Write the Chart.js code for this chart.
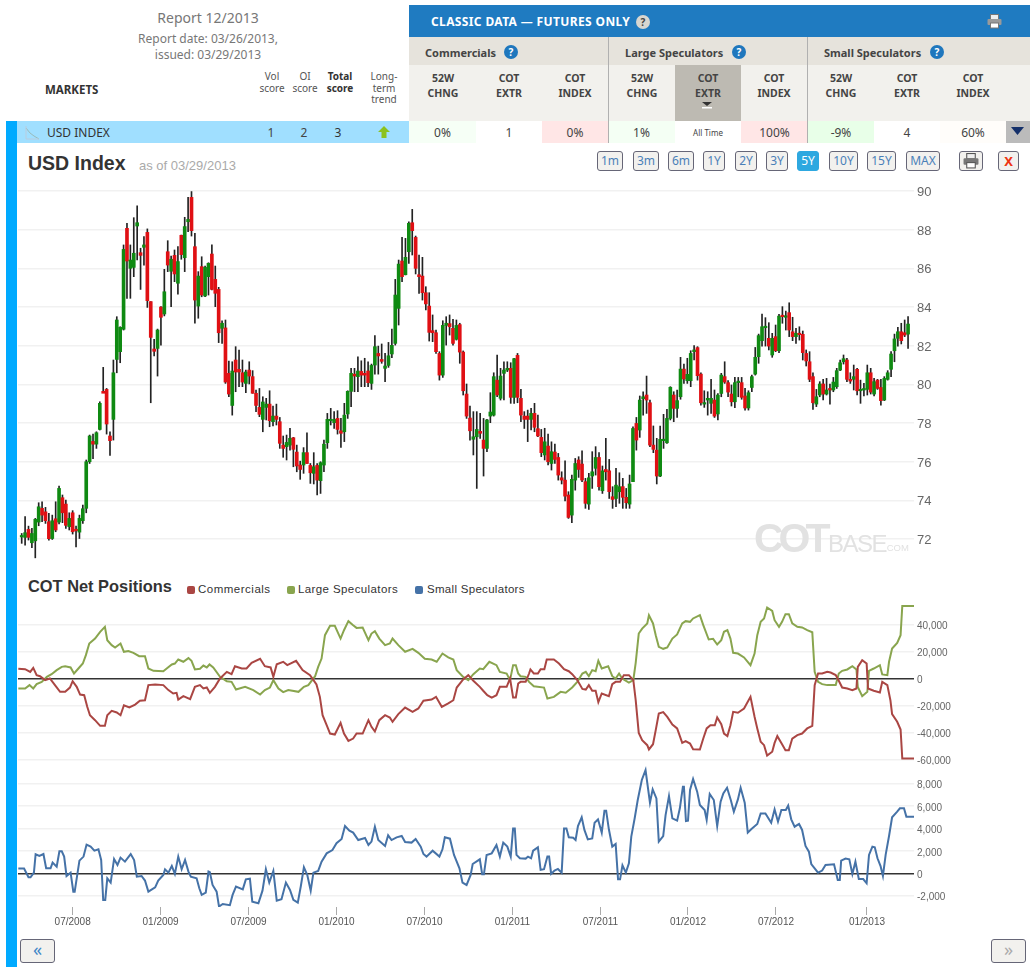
<!DOCTYPE html>
<html>
<head>
<meta charset="utf-8">
<title>USD Index</title>
<script src="https://cdn.jsdelivr.net/npm/chart.js@4/dist/chart.umd.min.js"></script>
<style>
html, body { margin: 0; padding: 0; background: #fff; overflow: hidden; }
body { width: 1034px; height: 967px; position: relative; font-family: "Noto Sans", sans-serif; color: #444; }
.box, .t, canvas, .btn { position: absolute; }
.t { white-space: nowrap; line-height: 1; }
.c { transform: translateX(-50%); text-align: center; }
.arial { font-family: "Liberation Sans", Arial, sans-serif; }
.colhead { font-size: 10.5px; font-weight: bold; color: #444; line-height: 15px; }
.small { font-size: 10px; color: #555; line-height: 11.5px; }
.cell { position: absolute; top: 121px; height: 22px; line-height: 23px; text-align: center; font-size: 12px; color: #444; }
.btn { top: 151px; height: 18px; line-height: 18px; border: 1px solid #667; border-radius: 3px; background: #f2f1ee; text-align: center; font-size: 12px; color: #4a80b8; }
.help { position: absolute; width: 14px; height: 14px; line-height: 14px; border-radius: 50%; background: #1f77bd; color: #fff; font-size: 10px; font-weight: bold; text-align: center; }
.leg { position: absolute; top: 586px; width: 8px; height: 8px; border-radius: 2px; }
</style>
</head>
<body>
<!-- left edge bar -->
<div class="box" style="left:6px;top:121px;width:11px;height:846px;background:#00aaff"></div>

<!-- report heading -->
<div class="t c" style="left:208px;top:11px;font-size:14px;color:#777">Report 12/2013</div>
<div class="t c" style="left:208px;top:31px;font-size:12px;color:#777;line-height:16px">Report date: 03/26/2013,<br>issued: 03/29/2013</div>
<div class="t" style="left:45px;top:84px;font-size:11.5px;font-weight:bold;color:#333">MARKETS</div>
<div class="t c small" style="left:272px;top:71px">Vol<br>score</div>
<div class="t c small" style="left:305px;top:71px">OI<br>score</div>
<div class="t c small" style="left:340px;top:71px;font-weight:bold;color:#333">Total<br>score</div>
<div class="t c small" style="left:384px;top:71px">Long-<br>term<br>trend</div>

<!-- classic data header -->
<div class="box" style="left:409px;top:5px;width:621px;height:32px;background:#1f7bc1"></div>
<div class="t" style="left:431px;top:16px;font-size:12px;font-weight:bold;color:#fff;letter-spacing:0.37px">CLASSIC DATA — FUTURES ONLY</div>
<div class="help" style="left:636px;top:15px;background:#d8d6d0;color:#444">?</div>
<svg class="box" style="left:987px;top:14px" width="15" height="15" viewBox="0 0 15 15"><rect x="3.5" y="0.5" width="8" height="5" fill="#eee" stroke="#777"/><rect x="0.5" y="5" width="14" height="6" rx="1" fill="#9a9a9a"/><rect x="3.5" y="9" width="8" height="5" fill="#fff" stroke="#777"/></svg>

<div class="box" style="left:409px;top:37px;width:621px;height:28px;background:#e6e3dc"></div>
<div class="box" style="left:409px;top:65px;width:621px;height:56px;background:#f2f1ed"></div>
<div class="box" style="left:675px;top:65px;width:66px;height:56px;background:#bdbab2"></div>
<div class="t" style="left:425px;top:47px;font-size:11px;font-weight:bold;color:#444">Commercials</div>
<div class="help" style="left:504px;top:45px">?</div>
<div class="t" style="left:625px;top:47px;font-size:11px;font-weight:bold;color:#444">Large Speculators</div>
<div class="help" style="left:732px;top:45px">?</div>
<div class="t" style="left:824px;top:47px;font-size:11px;font-weight:bold;color:#444">Small Speculators</div>
<div class="help" style="left:930px;top:45px">?</div>

<div class="t c colhead" style="left:443px;top:71px">52W<br>CHNG</div>
<div class="t c colhead" style="left:509px;top:71px">COT<br>EXTR</div>
<div class="t c colhead" style="left:575px;top:71px">COT<br>INDEX</div>
<div class="t c colhead" style="left:642px;top:71px">52W<br>CHNG</div>
<div class="t c colhead" style="left:708px;top:71px">COT<br>EXTR</div>
<div class="t c colhead" style="left:774px;top:71px">COT<br>INDEX</div>
<div class="t c colhead" style="left:841px;top:71px">52W<br>CHNG</div>
<div class="t c colhead" style="left:907px;top:71px">COT<br>EXTR</div>
<div class="t c colhead" style="left:973px;top:71px">COT<br>INDEX</div>
<svg class="box" style="left:702px;top:102px" width="10" height="7"><polygon points="0,0 10,0 5,4" fill="#333"/><rect x="0" y="5" width="10" height="1.5" fill="#fff"/></svg>

<!-- market row -->
<div class="box" style="left:17px;top:121px;width:392px;height:22px;background:#a0dfff"></div>
<svg class="box" style="left:25px;top:125px" width="15" height="15"><polyline points="1,3 5,8 9,11 14,14" fill="none" stroke="#9bb" stroke-width="1"/><polyline points="1,1 1,14 14,14" fill="none" stroke="#bcd" stroke-width="1"/></svg>
<div class="t" style="left:47px;top:127px;font-size:12px;color:#333">USD INDEX</div>
<div class="t c" style="left:271px;top:127px;font-size:12px">1</div>
<div class="t c" style="left:304px;top:127px;font-size:12px">2</div>
<div class="t c" style="left:338px;top:127px;font-size:12px;color:#333">3</div>
<svg class="box" style="left:378px;top:126px" width="12" height="12"><polygon points="6,0 12,6 8.5,6 8.5,12 3.5,12 3.5,6 0,6" fill="#8cc21e"/></svg>

<div class="cell" style="left:409px;width:67px;background:#f6fff6">0%</div>
<div class="cell" style="left:476px;width:66px;background:#fff">1</div>
<div class="cell" style="left:542px;width:66px;background:#ffe6e6">0%</div>
<div class="cell" style="left:608px;width:67px;background:#f4fff4">1%</div>
<div class="cell" style="left:675px;width:66px;background:#fff;font-size:8px">All Time</div>
<div class="cell" style="left:741px;width:67px;background:#ffe6e6">100%</div>
<div class="cell" style="left:808px;width:66px;background:#e8ffe8">-9%</div>
<div class="cell" style="left:874px;width:66px;background:#fff">4</div>
<div class="cell" style="left:940px;width:66px;background:#fffdfa">60%</div>
<div class="box" style="left:1006px;top:121px;width:24px;height:22px;background:#bbb"></div>
<svg class="box" style="left:1011px;top:127px" width="13" height="9"><polygon points="0,0 13,0 6.5,8" fill="#14306a"/></svg>
<div class="box" style="left:608px;top:37px;width:1px;height:106px;background:#b0b0b0"></div>
<div class="box" style="left:807px;top:37px;width:1px;height:106px;background:#b0b0b0"></div>

<!-- chart title and range buttons -->
<div class="t arial" style="left:28px;top:154px;font-size:19.5px;font-weight:bold;color:#333">USD Index</div>
<div class="t arial" style="left:139px;top:159px;font-size:13px;color:#aaa">as of 03/29/2013</div>
<div class="btn" style="left:597px;width:24px">1m</div>
<div class="btn" style="left:633px;width:24px">3m</div>
<div class="btn" style="left:668px;width:24px">6m</div>
<div class="btn" style="left:703px;width:20px">1Y</div>
<div class="btn" style="left:735px;width:20px">2Y</div>
<div class="btn" style="left:766px;width:20px">3Y</div>
<div class="btn" style="left:797px;width:20px;background:#2ea8e0;color:#fff;border-color:#2ea8e0">5Y</div>
<div class="btn" style="left:829px;width:27px">10Y</div>
<div class="btn" style="left:867px;width:27px">15Y</div>
<div class="btn" style="left:906px;width:32px">MAX</div>
<div class="btn" style="left:959px;width:22px"></div>
<svg class="box" style="left:963px;top:153px" width="16" height="16" viewBox="0 0 15 15"><rect x="3.5" y="0.5" width="8" height="5" fill="#eee" stroke="#555"/><rect x="0.5" y="5" width="14" height="6" rx="1" fill="#777"/><rect x="3.5" y="9" width="8" height="5" fill="#fff" stroke="#555"/></svg>
<div class="btn" style="left:998px;width:19px;color:#ee3311;font-weight:bold;font-size:13px">X</div>

<canvas id="priceChart" width="1000" height="380" style="left:18px;top:185px"></canvas>
<canvas id="cotChart" width="1000" height="165" style="left:18px;top:600px"></canvas>
<canvas id="smallChart" width="1000" height="170" style="left:18px;top:765px"></canvas>

<!-- watermark -->
<div class="t arial" style="left:754px;top:518px;font-size:41px;font-weight:bold;color:#e2e2e2;letter-spacing:-5px">COT</div>
<div class="t arial" style="left:828px;top:532px;font-size:24px;color:#e2e2e2;letter-spacing:-1.5px">BASE</div>
<div class="t arial" style="left:884px;top:543px;font-size:9.5px;color:#e2e2e2">.COM</div>

<!-- COT heading and legend -->
<div class="t arial" style="left:28px;top:578px;font-size:16.4px;font-weight:bold;color:#333">COT Net Positions</div>
<div class="leg" style="left:187px;background:#AA4643"></div>
<div class="t arial" style="left:198px;top:584px;font-size:11.5px;letter-spacing:0.5px;color:#333">Commercials</div>
<div class="leg" style="left:287px;background:#89A54E"></div>
<div class="t arial" style="left:298px;top:584px;font-size:11.5px;letter-spacing:0.4px;color:#333">Large Speculators</div>
<div class="leg" style="left:415px;background:#4572A7"></div>
<div class="t arial" style="left:427px;top:584px;font-size:11.5px;letter-spacing:0.3px;color:#333">Small Speculators</div>

<!-- paging buttons -->
<div class="btn" style="left:20px;top:939px;width:33px;height:22px;line-height:19px;font-size:18px;color:#3f86c6">«</div>
<div class="btn" style="left:991px;top:939px;width:33px;height:22px;line-height:19px;font-size:18px;color:#aaa">»</div>

<script>
// Weekly USD index candles, one value per week
const candleHigh = [72.29,73.16,72.67,72.55,73.07,73.88,73.93,73.64,73.33,73.24,73.93,74.74,74.28,74.02,73.36,73.47,72.67,73.24,73.76,76.09,
  77.38,77.43,77.55,79.10,80.88,79.79,77.55,81.26,83.50,82.98,87.21,88.33,87.21,88.62,89.23,87.04,87.64,88.04,84.28,82.33,
  82.86,84.02,85.95,87.43,86.64,86.95,87.12,87.72,88.64,89.67,89.97,87.81,85.83,86.60,86.12,86.29,87.21,86.12,85.02,83.29,
  83.33,81.21,81.17,81.95,81.78,81.26,80.74,81.17,80.71,79.71,79.79,79.36,79.28,79.67,78.88,78.98,78.29,77.33,77.38,77.73,
  77.26,76.86,76.03,76.73,77.50,75.91,76.47,75.91,76.00,77.12,78.50,78.76,78.59,78.64,78.24,79.02,79.67,80.83,80.83,81.43,
  81.22,81.35,81.17,81.05,82.52,81.98,82.09,81.60,82.17,82.86,85.43,86.43,87.60,87.55,88.41,89.05,87.67,86.69,86.57,85.05,
  84.74,83.59,82.81,81.69,83.29,83.50,83.59,83.36,83.33,83.16,81.73,80.02,78.88,78.59,78.59,78.50,78.24,78.19,79.57,80.60,
  81.52,80.83,81.17,81.17,81.12,81.35,81.60,79.74,78.59,78.67,78.76,79.02,78.41,77.67,77.73,77.43,77.03,76.91,76.43,75.48,
  76.05,74.45,75.31,76.17,76.26,76.57,75.14,75.40,76.52,76.78,76.47,75.78,77.21,76.12,74.71,75.66,75.43,75.14,74.62,75.31,
  77.81,78.29,79.40,79.62,80.43,79.19,77.85,77.21,77.85,78.45,78.71,79.88,79.62,79.71,81.40,81.05,81.35,81.74,82.00,81.95,
  80.60,79.67,79.62,80.26,79.71,79.53,80.57,81.17,80.19,79.97,80.36,80.36,80.36,79.79,79.67,80.48,81.91,82.60,83.64,83.45,
  83.19,82.64,83.07,83.62,84.02,83.79,84.22,83.47,82.90,82.98,82.76,81.78,81.69,80.60,79.74,80.14,80.26,80.31,80.02,80.36,
  80.83,81.26,81.52,81.35,80.60,81.00,80.83,80.22,80.05,81.00,80.83,80.31,80.26,80.26,80.40,80.71,81.69,82.60,82.95,83.16,
  83.33,83.50];
const candleLow = [71.78,71.69,71.95,71.55,71.03,72.69,72.90,72.81,71.95,71.98,72.38,72.78,72.85,72.55,72.47,72.26,71.60,72.03,72.81,73.36,
  75.91,76.16,76.69,77.64,79.60,77.43,76.33,77.12,80.60,81.12,82.81,84.45,84.45,85.57,86.43,84.91,86.17,83.98,79.05,81.47,
  80.43,82.03,83.54,85.83,84.02,85.31,84.66,86.47,85.83,87.90,87.67,83.16,83.42,84.53,84.53,84.62,84.88,84.02,82.16,82.12,
  80.05,79.36,78.41,79.62,79.88,79.88,79.57,80.02,79.54,78.59,78.33,77.55,78.16,77.81,77.85,77.90,76.69,76.23,76.09,76.60,
  75.74,75.48,75.09,75.40,75.91,74.88,74.85,74.28,74.36,75.48,76.69,77.90,77.72,77.43,76.74,77.04,78.24,78.85,79.62,79.62,
  79.88,79.88,79.88,79.74,80.53,80.53,81.09,80.14,80.88,81.38,82.03,83.07,85.31,85.66,86.26,86.69,85.71,84.71,84.36,83.85,
  82.24,82.21,81.60,80.22,80.36,82.03,82.55,82.03,82.29,81.09,79.45,78.24,77.12,76.35,74.62,77.21,75.26,76.52,78.02,78.36,
  79.36,79.19,79.19,80.66,79.02,79.02,79.05,78.07,77.72,77.04,77.64,77.55,77.29,76.26,76.09,75.83,75.57,75.91,75.05,74.85,
  73.98,73.07,72.85,74.53,75.19,74.97,73.59,73.54,74.62,75.31,74.53,74.36,75.05,74.10,73.59,73.67,73.85,73.59,73.59,73.59,
  74.97,76.60,77.26,78.41,78.50,76.78,76.47,74.85,75.23,76.69,76.95,78.16,78.07,78.29,79.23,80.05,80.05,79.88,81.26,80.22,
  78.93,78.81,78.41,78.50,78.29,78.16,79.36,80.05,79.36,78.88,78.79,79.36,79.23,78.67,78.67,79.62,80.48,81.09,81.98,81.98,
  81.78,81.40,81.69,81.64,83.16,82.81,82.47,82.26,82.12,82.29,81.26,80.95,80.14,78.71,78.85,79.36,79.19,79.45,78.98,79.62,
  79.79,80.71,81.05,80.14,80.05,79.71,79.45,79.02,79.40,79.45,79.50,79.40,79.74,78.93,79.16,80.22,80.40,81.17,81.98,82.09,
  82.47,81.86];
const candleOpen = [72.11,72.09,72.50,71.81,71.91,72.88,73.59,73.41,72.90,72.03,73.05,72.88,74.14,73.81,72.64,73.36,72.50,72.36,72.95,73.59,
  76.00,77.05,76.91,77.67,79.64,79.74,77.33,78.19,81.29,81.69,82.85,88.07,86.00,86.05,88.19,86.81,87.09,87.86,84.28,81.83,
  81.86,84.00,83.64,86.86,85.85,86.67,85.23,87.71,86.55,88.41,89.67,87.12,84.05,86.09,84.57,85.57,86.74,85.43,84.91,82.90,
  82.92,80.57,78.91,81.26,80.78,80.60,80.05,80.74,80.40,79.54,78.81,78.19,78.81,78.98,78.07,78.36,78.07,76.86,76.78,76.86,
  77.24,76.50,75.83,75.83,76.47,75.81,75.40,75.81,75.02,75.83,76.98,78.12,78.02,78.24,77.60,77.55,78.47,79.64,80.53,80.40,
  80.67,80.57,80.69,80.05,81.00,81.60,81.29,80.83,80.98,81.57,82.12,83.93,86.38,85.67,86.86,88.36,87.60,85.67,85.60,84.74,
  84.05,82.78,82.67,81.60,80.48,83.05,83.14,82.90,82.33,83.09,81.67,79.50,78.26,77.16,77.29,77.57,77.12,76.69,78.36,78.41,
  80.22,79.28,80.57,80.74,80.83,79.33,81.50,79.28,78.36,78.36,78.19,78.50,77.71,77.26,76.35,76.81,75.91,76.50,76.22,75.17,
  75.05,74.28,73.24,75.05,76.09,75.88,74.97,73.81,75.26,75.66,76.22,74.50,75.60,75.53,74.19,74.10,74.45,74.71,74.16,73.81,
  74.97,77.98,77.64,79.26,79.45,79.05,76.86,76.60,75.26,77.09,76.98,78.24,79.45,78.76,79.36,80.79,80.19,80.19,81.69,81.90,
  80.53,78.98,79.19,79.02,79.19,78.47,79.53,80.40,80.09,79.50,79.10,80.09,80.09,79.40,78.78,79.84,80.53,81.43,82.26,82.93,
  82.38,81.52,82.47,81.74,83.57,83.47,83.71,82.72,82.47,82.64,82.59,81.60,81.17,80.40,78.98,79.45,80.02,79.50,79.79,79.71,
  79.88,80.74,81.17,81.26,80.26,80.26,80.78,79.67,79.71,79.74,80.60,79.50,80.22,79.84,79.19,80.26,80.78,81.74,82.38,82.72,
  82.67,82.60];
const candleClose = [72.18,72.33,72.09,72.29,73.02,73.67,73.24,72.95,72.02,72.95,72.47,74.62,73.36,72.71,73.07,72.38,72.43,73.07,73.57,76.00,
  77.33,76.91,77.50,79.02,79.54,77.95,77.09,80.60,83.33,82.95,86.98,86.38,86.43,86.78,88.36,86.67,87.21,84.33,82.43,81.71,
  82.81,83.47,84.79,86.17,86.47,85.71,86.35,86.71,88.16,88.53,87.95,84.36,85.60,84.62,86.05,86.26,84.91,84.71,82.67,83.16,
  80.12,79.50,80.69,80.64,80.64,80.12,80.64,80.43,79.54,78.91,78.45,79.09,78.98,78.12,78.36,78.19,76.95,76.69,77.00,77.21,
  76.64,75.78,75.60,76.47,75.91,75.43,75.74,75.05,75.95,76.91,78.19,78.19,78.19,77.67,77.47,78.41,79.64,80.57,80.43,80.69,
  80.48,80.48,80.09,80.98,81.95,81.47,81.19,80.95,81.48,82.02,84.62,86.22,85.57,86.57,88.33,87.95,86.00,85.57,84.74,84.16,
  82.69,82.67,81.69,80.48,83.05,83.16,82.98,82.12,83.05,81.67,79.67,78.36,77.60,77.29,77.67,77.47,76.69,78.16,78.57,80.40,
  79.45,80.43,80.74,80.83,79.33,81.33,79.33,78.41,78.19,78.19,78.50,77.78,77.33,76.47,77.03,76.00,76.52,76.12,75.31,75.05,
  74.22,73.12,75.09,75.91,75.60,75.05,73.85,75.17,75.48,76.22,74.71,75.53,75.48,74.45,74.05,74.79,74.71,74.16,73.88,74.85,
  77.72,77.12,79.19,79.36,79.19,76.86,76.64,75.26,77.16,77.16,78.24,79.85,78.76,79.16,80.79,80.28,80.52,81.60,81.78,80.45,
  79.05,79.02,79.28,79.28,78.36,79.45,80.48,80.12,79.60,79.10,80.09,80.16,79.33,78.78,79.57,80.40,81.40,82.52,82.98,82.98,
  81.98,82.38,81.74,83.53,83.50,83.53,82.81,82.47,82.64,82.57,81.64,81.21,80.26,79.05,79.36,80.02,79.50,79.71,79.71,80.12,
  80.71,81.12,81.33,80.26,80.17,80.40,79.67,79.74,79.78,80.60,79.60,80.14,79.79,79.16,80.31,80.60,81.57,82.35,82.72,82.26,
  82.55,83.12];

// Net positions as [week, net contracts]
const commercials = [[-1,7200],[1,6900],[2.5,4900],[3.4,7900],[4.4,2500],[5.4,1700],[6.9,-1200],[8.3,0],[9.8,-4900],[11.3,-9900],[12.8,-9900],[14.2,-6700],[15,-2000],[16.2,-6200],[17.2,-11900],[18.4,-12400],[19.3,-21000],[20.1,-27200],[21.6,-30900],[23.1,-35100],[24.5,-35100],[25.2,-27200],[26.5,-24000],[28,-25200],[29.1,-27200],[30.1,-19800],[31.7,-21500],[33.4,-19300],[34.8,-16500],[36.3,-16100],[37.3,-4900],[39.3,-4400],[41.7,-4900],[43.2,-8600],[44.6,-11100],[45.6,-10600],[46.1,-15600],[47.6,-13100],[49.6,-15300],[51,-6200],[52.5,-4900],[53.5,-7400],[54.5,-6700],[55.4,-10600],[56.9,-6200],[58.4,0],[60.4,4900],[61.8,3200],[62.8,9100],[64.8,7400],[66.2,7400],[67.7,11600],[70.2,14600],[71.6,9100],[73.3,8200],[74.1,1200],[75.1,10600],[77,12400],[78.2,9900],[80.8,13100],[82.7,6200],[84.9,2500],[86.8,-4400],[87.8,-13600],[88.6,-27200],[89.8,-34600],[90.8,-40800],[92.2,-41500],[93.9,-32900],[94.9,-40800],[96.2,-46200],[97.6,-44500],[98.6,-40800],[100.4,-40800],[102.1,-30900],[103,-35800],[104,-39300],[105.3,-30900],[107,-27200],[108.4,-28900],[109.2,-32100],[110.9,-26400],[112.9,-21500],[115.1,-24700],[116.8,-22200],[118.3,-16500],[120.7,-15600],[122,-13600],[123.7,-21000],[125.6,-18500],[127.1,-16100],[128.1,-6700],[130,-700],[131.5,2500],[133,-1700],[134.9,-6200],[135.9,-9100],[137.1,-12400],[138.4,-14100],[139.8,-12400],[140.8,-6200],[142.8,-6200],[143.8,0],[144.7,-14100],[145.5,-14100],[146.2,-3700],[146.9,-2500],[148.4,-2500],[149.4,3700],[149.8,6700],[150.8,3700],[152,3700],[152.8,6900],[153.9,6900],[154.6,14100],[156.7,14100],[158.2,11100],[159.7,6900],[161.1,5400],[162.1,3200],[163.6,-1200],[165.1,-7700],[166.1,-8200],[167,-4900],[168,-9100],[169,-9100],[169.8,-17500],[170.8,-11100],[172.9,-13100],[173.9,-4200],[174.9,-2500],[176.2,-2500],[177.3,2500],[178.8,2500],[180.1,-1200],[180.8,-16100],[181.7,-40300],[182.7,-45700],[184.2,-49400],[184.7,-52600],[185.9,-48700],[186.7,-38300],[187.6,-25900],[188.9,-24900],[190.1,-28400],[191.6,-34100],[193,-37000],[194.5,-47700],[195.5,-46400],[196.8,-48200],[197.7,-52400],[199.7,-52600],[200.7,-44500],[201.7,-37000],[202.8,-34600],[204.1,-34600],[204.8,-28900],[206,-33800],[206.8,-40800],[207.8,-42700],[208.7,-34600],[209.5,-24700],[210.9,-25400],[212.7,-22200],[214.6,-13600],[215.8,-28400],[216.6,-37000],[217.6,-46900],[218.6,-49400],[219.5,-57100],[221,-54300],[221.7,-47700],[222.5,-42700],[223.9,-48700],[224.9,-53100],[225.9,-53100],[226.9,-44500],[228.4,-42000],[229.8,-40800],[231.3,-37000],[232.8,-35100],[233.5,-4900],[234.5,3700],[235.7,3700],[237.2,4900],[238.2,4400],[239.7,2500],[240.6,-1700],[241.6,-6700],[243.1,-7400],[244.6,-8600],[245.8,-7400],[246.2,8600],[247.5,13600],[248.8,11100],[249.2,-7400],[250.9,-9100],[252.7,-10400],[253.4,-2500],[254.9,-4900],[255.8,-16100],[256.3,-26400],[257.8,-32100],[258.8,-37800],[259.3,-59300],[263,-59300]];
const largeSpeculators = [[-1,-7400],[1,-7400],[2.3,-4900],[3.4,-7400],[4.4,-4200],[5.9,-2500],[7.4,1200],[8.8,3200],[10.3,6200],[11.8,8600],[12.8,9100],[14.4,8200],[15.4,3700],[16.7,7400],[18,11100],[18.9,17300],[19.9,25900],[21.6,29600],[23.1,34600],[24.5,38300],[25.2,28400],[26.5,24700],[27.5,23000],[29.1,25900],[30.1,19800],[31.4,20300],[32.9,19000],[34.6,16500],[36.3,16500],[37.3,7400],[38.8,5700],[41.7,5400],[42.7,7400],[44.2,10400],[45.1,11100],[46.1,14100],[47.6,12400],[49.1,15100],[50,13100],[51,6700],[52.5,7200],[53.5,9600],[54.5,8200],[55.3,10400],[56.4,8200],[58.4,1200],[60.4,-2000],[61.8,-2500],[63.1,-8200],[65.8,-6200],[68.2,-8600],[70.2,-11900],[71.6,-8600],[73.1,-6700],[74.1,-1200],[75.6,-7400],[77,-10100],[78.5,-8600],[81.5,-9900],[83.1,-6200],[84.4,-4900],[86.4,1700],[87.3,8600],[88.3,14800],[89.3,32100],[90.8,39000],[92.2,39000],[93.9,29600],[94.9,35800],[96.2,42500],[97.6,39500],[98.6,37500],[100.4,37800],[102.1,28400],[103,33300],[104,35100],[105.3,29600],[107,24700],[108.4,25900],[109.2,29600],[110.9,24700],[112.9,19800],[115.1,22000],[116.8,19000],[118.7,14600],[120.7,14100],[122.2,12400],[123.9,18500],[125.6,15600],[127.1,14100],[128.1,6200],[130,1200],[131.5,-1200],[133,3200],[134.9,7400],[135.9,6900],[137.7,12400],[139.8,9900],[140.8,4900],[142.8,3700],[143.8,-1200],[144.7,9900],[145.5,9900],[146.2,3700],[146.9,1700],[148.4,1200],[149.4,-2500],[150.8,-5700],[153.8,-6700],[154.8,-14800],[156.7,-13600],[158.7,-9900],[160.2,-10600],[162.1,-6700],[163.6,-2500],[165.1,3700],[166.1,4900],[167,1700],[168,6200],[169,5400],[169.8,13100],[170.8,7400],[172.7,9100],[173.9,1700],[174.9,0],[175.9,3700],[176.8,0],[178.8,-3000],[180.1,-1200],[180.8,11600],[181.7,33300],[182.7,37000],[184.2,40800],[184.7,46900],[185.9,40800],[186.7,32100],[187.6,23500],[188.9,22000],[190.1,23000],[191.6,29600],[193,32600],[194.5,40800],[195.5,42500],[196.8,42000],[197.7,44500],[199.7,46900],[200.7,39500],[202.3,28900],[203.6,29400],[204.8,25200],[206,28400],[206.8,34600],[207.8,35800],[208.7,29600],[209.5,19000],[210.9,18500],[212.7,15600],[214.6,9900],[215.8,18500],[216.6,32100],[217.6,42000],[218.6,44500],[219.5,52600],[221,50100],[221.7,43200],[223,38300],[223.9,42000],[224.9,47700],[225.9,47700],[226.9,40800],[228.4,38300],[229.8,37800],[231.3,35800],[232.8,34300],[233.5,4900],[234.5,-2500],[235.7,-4200],[237.2,-4900],[238.2,-4900],[239.7,-4900],[240.6,3700],[241.6,5700],[243.1,6700],[244.6,9100],[245.8,6700],[246.2,-6200],[247.5,-13100],[249,-9900],[249.5,5700],[250.9,7400],[252.7,9900],[253.4,3000],[254.9,2500],[255.4,12400],[256.3,22200],[257.8,26400],[258.8,32100],[259.3,53800],[263,53800]];
const smallSpeculators = [[-1,420],[0.7,420],[2,-360],[2.6,-360],[3.6,60],[4.1,1700],[5.2,1550],[6.4,1720],[7.2,450],[8.5,450],[9.1,950],[10.3,590],[11.1,1960],[11.8,1960],[12.5,1490],[13.2,-240],[14.4,60],[15.2,-1640],[15.6,-1640],[16.4,-60],[17,1130],[18.2,1490],[19.1,2560],[20.3,2380],[21.4,2020],[22.6,2140],[23.4,1190],[24,-2380],[24.6,-2380],[25.2,-450],[26.2,-830],[27.2,1280],[28.2,740],[29.1,1400],[30.4,1040],[32.1,1720],[33.1,1190],[33.9,-300],[35.3,-240],[36.3,-650],[37.3,-1640],[39.3,-1250],[40.2,-650],[41.7,-150],[42.2,360],[43.2,60],[44.2,650],[45.1,-60],[46.1,1490],[47.1,360],[48.1,1190],[49.1,150],[49.8,-300],[51.5,-450],[52.3,-1340],[53,-1930],[54.2,-1720],[55,150],[55.4,90],[56.2,-1040],[57.4,-1640],[58.1,-2970],[59.2,-2740],[61.3,-2850],[62.1,-1930],[63.1,-1190],[65.1,-1430],[66,-540],[67.2,-480],[67.9,-2530],[69.7,-2680],[70.9,-1550],[71.9,360],[72.9,-830],[74.1,210],[75.1,-2440],[76.5,-2320],[77.8,-830],[79,-1490],[80,-2380],[81.3,-2620],[82.2,-1130],[83.1,540],[84.1,-150],[85.1,-1550],[85.9,60],[87.3,210],[88.3,1040],[89.8,1780],[91.5,2080],[92.7,2680],[94.2,3060],[95.2,4220],[96.5,3810],[97.6,3630],[99.1,2970],[101.1,3150],[102.1,2530],[103,2830],[104,4160],[105,2970],[107,2440],[107.9,3390],[108.9,2970],[110.4,3210],[111.9,3330],[112.9,2800],[114.8,2740],[116,3060],[117.5,2380],[118.3,1720],[119.2,1490],[121,2020],[123,1490],[123.9,2140],[124.6,3210],[126.1,3090],[127.3,1640],[128.9,450],[129.8,-830],[131,-1040],[132.2,-150],[132.8,830],[134.9,1250],[135.6,-90],[136.1,-90],[136.9,1640],[138.4,1780],[139.8,2530],[140.8,1490],[141.8,2740],[143,2380],[144,1490],[144.7,4010],[145.2,4010],[145.7,1640],[146.7,1340],[148.4,1310],[149.1,1490],[150,1340],[150.6,2020],[152,2320],[152.8,300],[153.8,360],[154.8,1490],[155.3,1490],[155.9,-60],[156.9,240],[157.9,390],[159,60],[159.7,4010],[160.4,4010],[161.1,3210],[162.4,3180],[163.1,2970],[163.8,4220],[164.9,5000],[165.7,3870],[166.7,3030],[168,3120],[168.7,4520],[169.7,4820],[170.8,3630],[171.6,5590],[172.1,5590],[172.9,3930],[173.9,2380],[174.9,2620],[175.6,-540],[176.2,-540],[176.9,710],[177.9,60],[178.8,890],[179.5,3270],[180.5,4910],[181.4,6540],[182.6,8330],[183.7,9220],[185,6300],[185.8,7490],[186.9,6690],[187.6,2830],[188.9,3330],[189.6,5200],[190.6,6900],[191.6,4910],[193,4700],[193.8,5800],[194.7,7730],[195,7730],[195.6,4670],[196.2,4700],[196.8,7440],[197.7,8420],[198.9,7290],[199.7,6100],[201.1,5650],[201.7,4760],[202.6,7080],[203.8,6540],[204.8,4220],[205.8,6390],[206.6,7140],[207.7,7640],[208.8,6540],[209.7,5500],[210.9,6600],[211.7,7640],[212.9,6300],[213.8,3630],[214.8,3930],[216.6,4400],[217.6,5350],[219,5350],[220.7,4520],[221.7,5710],[222.7,4610],[223.7,5650],[225,5650],[225.7,6040],[226.6,4820],[227.6,4160],[228.9,4400],[229.8,3870],[230.8,2440],[231.8,1930],[232.5,830],[234.5,60],[235.7,240],[236.7,740],[239.2,800],[240.3,-590],[240.9,-590],[241.3,1130],[242.6,1310],[243.7,1250],[244.6,-60],[245.5,1040],[246.5,-510],[247.8,-510],[248.8,-890],[249.5,1640],[250.5,2380],[251.2,2320],[252,1340],[252.9,650],[253.6,-240],[254.4,1640],[255.4,3330],[256.3,5000],[257.8,5500],[258.6,5800],[259.8,5800],[260.5,5060],[263,5060]];

// Axis ticks
const priceTicks = [72,74,76,78,80,82,84,86,88,90];
const cotTicks = [-60000,-40000,-20000,0,20000,40000];
const smallTicks = [-2000,0,2000,4000,6000,8000];
const dateTickWeeks = [15,40.9,66.8,92.7,118.6,144.5,170.4,196.2,222.1,248.9];
const dateTickLabels = ['07/2008','01/2009','07/2009','01/2010','07/2010','01/2011','07/2011','01/2012','07/2012','01/2013'];

const UP_COLOR = '#0f8a12';
const DOWN_COLOR = '#e01014';
const GRID_COLOR = '#f1f1f1';
const FONT = '"Liberation Sans", Arial, sans-serif';
const WEEK_MIN = -1.09;
const WEEK_MAX = 262.75;
const AXIS_WIDTH = 104;

Chart.defaults.animation = false;
Chart.defaults.responsive = false;
Chart.defaults.devicePixelRatio = 1;
Chart.defaults.plugins.legend.display = false;
Chart.defaults.plugins.tooltip.enabled = false;

function yAxis(min, max, ticks, fontSize, labelShift) {
    return {
        position: 'right',
        min: min,
        max: max,
        border: { display: false },
        grid: {
            drawTicks: false,
            lineWidth: 1.5,
            color: ctx => ctx.tick.value === 0 ? '#333' : GRID_COLOR
        },
        ticks: {
            autoSkip: false,
            padding: 3,
            labelOffset: labelShift,
            color: '#666',
            font: { family: FONT, size: fontSize },
            callback: v => v.toLocaleString('en-US')
        },
        afterBuildTicks: axis => { axis.ticks = ticks.map(v => ({ value: v })); },
        afterFit: axis => {
            axis.width = AXIS_WIDTH;
            axis.paddingTop = 0;
            axis.paddingBottom = 0;
        }
    };
}

function hiddenWeekAxis() {
    return { type: 'linear', display: false, offset: false, min: WEEK_MIN, max: WEEK_MAX };
}

function lineDataset(points, color) {
    return {
        data: points.map(p => ({ x: p[0], y: p[1] })),
        borderColor: color,
        borderWidth: 2,
        pointRadius: 0,
        tension: 0
    };
}

const bodyColors = candleOpen.map((o, i) => candleClose[i] >= o ? UP_COLOR : DOWN_COLOR);

new Chart(document.getElementById('priceChart'), {
    type: 'bar',
    data: {
        datasets: [
            {
                data: candleOpen.map((o, i) => ({ x: i, y: [o, candleClose[i]] })),
                backgroundColor: bodyColors,
                barThickness: 3,
                minBarLength: 1.5,
                borderSkipped: false,
                grouped: false,
                order: 1
            },
            {
                data: candleHigh.map((h, i) => ({ x: i, y: [candleLow[i], h] })),
                backgroundColor: '#222',
                barThickness: 1,
                grouped: false,
                order: 2
            }
        ]
    },
    options: {
        scales: {
            x: hiddenWeekAxis(),
            y: yAxis(70.66, 90.31, priceTicks, 13, 1.5)
        }
    }
});

new Chart(document.getElementById('cotChart'), {
    type: 'line',
    data: {
        datasets: [
            lineDataset(commercials, '#AA4643'),
            lineDataset(largeSpeculators, '#89A54E')
        ]
    },
    options: {
        scales: {
            x: hiddenWeekAxis(),
            y: yAxis(-64100, 58170, cotTicks, 10, 2)
        }
    }
});

new Chart(document.getElementById('smallChart'), {
    type: 'line',
    data: { datasets: [lineDataset(smallSpeculators, '#4572A7')] },
    options: {
        scales: {
            x: {
                type: 'linear',
                offset: false,
                min: WEEK_MIN,
                max: WEEK_MAX,
                border: { display: false },
                grid: { drawOnChartArea: false, tickLength: 8, color: '#aaa' },
                ticks: {
                    autoSkip: false,
                    maxRotation: 0,
                    padding: 1,
                    color: '#555',
                    font: { family: FONT, size: 10 },
                    callback: (v, i) => dateTickLabels[i]
                },
                afterBuildTicks: axis => { axis.ticks = dateTickWeeks.map(v => ({ value: v })); },
                afterFit: axis => {
                    axis.height = 28;
                    axis.paddingLeft = 0;
                    axis.paddingRight = 0;
                }
            },
            y: yAxis(-3010, 9670, smallTicks, 10, 2)
        }
    }
});
</script>
</body>
</html>
